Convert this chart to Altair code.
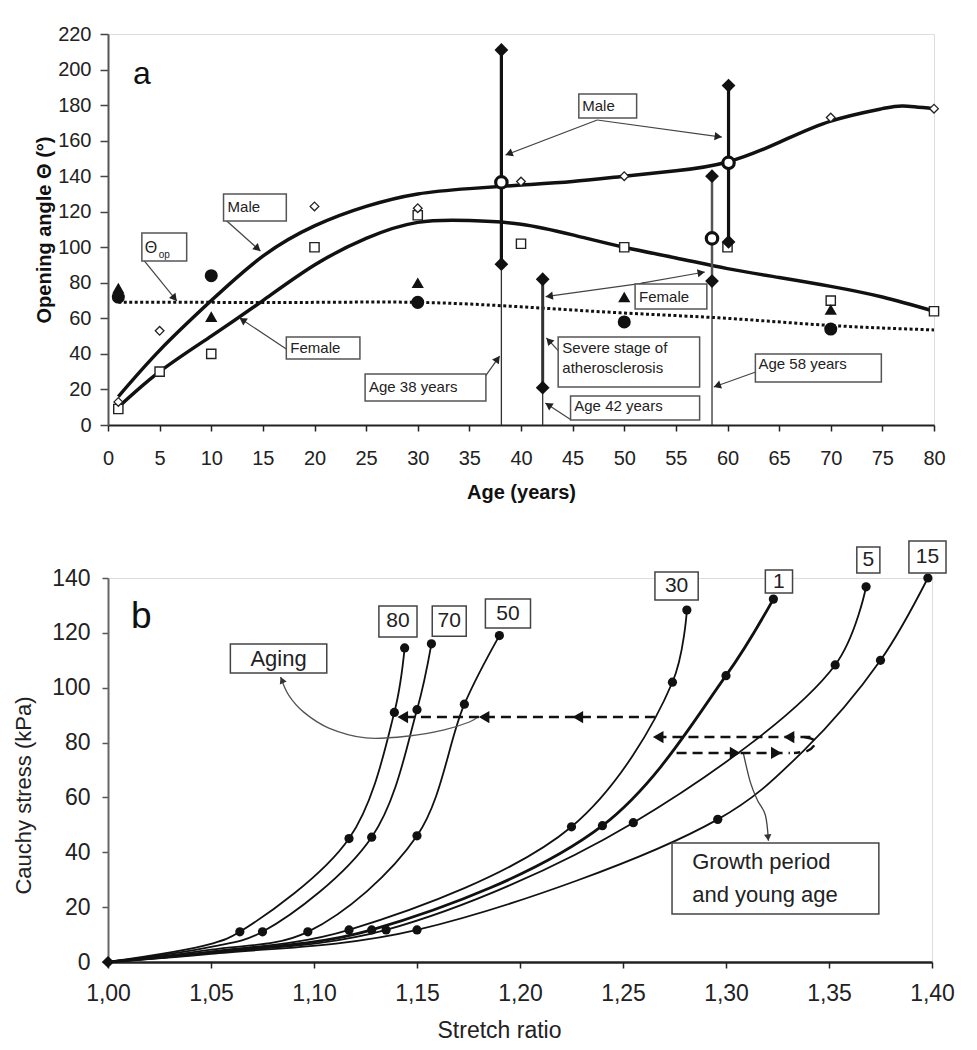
import math
import altair as alt
import pandas as pd

FONT = "Liberation Sans"

# ---------------- panel a : opening angle vs age ----------------
male_fit_age = [1, 5, 10, 15, 20, 25, 30, 35, 40, 45, 50, 55, 60, 65, 70, 75, 77, 80]
male_fit = [16, 42, 70, 95, 112, 123, 130, 133, 135, 137, 140, 143, 148, 159, 171, 178, 179.5, 178]
female_fit_age = [1, 5, 10, 15, 20, 25, 30, 35, 40, 45, 50, 55, 60, 65, 70, 75, 80]
female_fit = [10, 30, 50, 70, 90, 105, 114, 115, 113, 107, 100, 94, 88, 83, 78, 72, 64]
op_age = [1, 10, 20, 30, 40, 50, 60, 70, 80]
op_val = [69, 69, 69, 69, 66.5, 63, 60, 56, 53.5]

male_age = [1, 5, 20, 30, 40, 50, 70, 80]
male_val = [13, 53, 123, 122, 137, 140, 173, 178]
female_age = [1, 5, 10, 20, 30, 40, 50, 60, 70, 80]
female_val = [9, 30, 40, 100, 118, 102, 100, 100, 70, 64]
tri_age = [1, 10, 30, 50, 70]
tri_val = [77, 61, 80, 72, 65]
dot_age = [1, 10, 30, 50, 70]
dot_val = [72, 84, 69, 58, 54]

rng_age = [38.1, 42.1, 58.5, 60.1]
rng_low = [90.5, 21, 81, 103]
rng_high = [211, 82, 140, 191]
rng_mean_age = [38.1, 58.5, 60.1]
rng_mean = [136.5, 105, 147.5]
rng_width = [3.2, 3.0, 2.5, 3.2]
rng_color = ["#111", "#333", "#555", "#111"]
mark_line_age = [38.1, 42.1, 58.5]
mark_line_top = [90.5, 21, 81]

a_box_x1 = [11.19, 3.28, 17.27, 45.6, 51.05, 43.6, 44.8, 24.9, 62.7]
a_box_x2 = [17.27, 7.62, 24.4, 51.2, 58.0, 57.3, 57.3, 36.6, 74.9]
a_box_y1 = [114.8, 92.3, 37.1, 172.7, 65.3, 21.4, 2.8, 13.5, 24.2]
a_box_y2 = [130.0, 108.0, 49.5, 186.2, 79.3, 49.5, 16.3, 28.7, 40.0]

a_text = ["Male", "Θ", "op", "Female", "Male", "Female", "Severe stage of",
          "atherosclerosis", "Age 42 years", "Age 38 years", "Age 58 years"]
a_text_x = [11.58, 3.57, 4.92, 17.66, 45.93, 51.44, 44.0, 44.0, 45.16, 25.28, 63.0]
a_text_y = [122.4, 99.5, 95.5, 43.3, 179.5, 72.0, 43.3, 32.0, 10.7, 21.4, 34.3]
a_text_size = [15, 16, 10, 15, 15, 15, 15, 15, 15, 15, 15]

# arrows: tail (x0, y0) -> head (x1, y1)
a_arrow_x0 = [11.29, 3.38, 17.27, 47.38, 47.38, 52.0, 51.7, 43.72, 44.87, 36.57, 62.73]
a_arrow_y0 = [115.9, 93.4, 42.8, 171.6, 171.6, 80.0, 79.8, 41.1, 2.8, 27.6, 29.8]
a_arrow_x1 = [14.76, 6.66, 12.74, 38.5, 59.45, 42.39, 57.8, 42.46, 42.36, 37.93, 58.67]
a_arrow_y1 = [97.9, 69.8, 60.2, 151.9, 162.0, 72.2, 86.1, 49.0, 12.4, 38.8, 21.4]

# ---------------- panel b : Cauchy stress vs stretch ----------------
curve_names = ["80", "70", "50", "30", "1", "5", "15"]
curve_x = [
    [1.00, 1.05, 1.064, 1.117, 1.139, 1.144],
    [1.00, 1.05, 1.075, 1.128, 1.150, 1.157],
    [1.00, 1.05, 1.097, 1.150, 1.173, 1.190],
    [1.00, 1.05, 1.117, 1.225, 1.274, 1.281],
    [1.00, 1.05, 1.128, 1.240, 1.300, 1.323],
    [1.00, 1.05, 1.135, 1.255, 1.353, 1.368],
    [1.00, 1.05, 1.150, 1.296, 1.3376, 1.375, 1.398],
]
curve_y = [
    [0, 6.6, 11, 45, 91, 114.5],
    [0, 5.5, 11, 45.5, 92, 116],
    [0, 4.5, 11, 46, 94, 119],
    [0, 3.8, 11.7, 49.3, 102, 128.3],
    [0, 3.6, 11.7, 49.7, 104.4, 132.3],
    [0, 3.3, 11.7, 50.8, 108.3, 136.8],
    [0, 3.0, 11.7, 52, 77, 110, 140],
]
curve_width = [1.8, 1.8, 1.8, 1.8, 2.8, 1.8, 1.8]
dots_x = [
    [1.064, 1.117, 1.139, 1.144],
    [1.075, 1.128, 1.150, 1.157],
    [1.097, 1.150, 1.173, 1.190],
    [1.117, 1.225, 1.274, 1.281],
    [1.128, 1.240, 1.300, 1.323],
    [1.135, 1.255, 1.353, 1.368],
    [1.150, 1.296, 1.375, 1.398],
]
dots_y = [
    [11, 45, 91, 114.5],
    [11, 45.5, 92, 116],
    [11, 46, 94, 119],
    [11.7, 49.3, 102, 128.3],
    [11.7, 49.7, 104.4, 132.3],
    [11.7, 50.8, 108.3, 136.8],
    [11.7, 52, 110, 140],
]

nb_text = ["80", "70", "50", "30", "1", "5", "15"]
nb_x1 = [1.1315, 1.1574, 1.1832, 1.2655, 1.3191, 1.3635, 1.3888]
nb_x2 = [1.1500, 1.1739, 1.2051, 1.2865, 1.3323, 1.3747, 1.4068]
nb_y1 = [118.5, 118.8, 121.8, 132.0, 134.5, 141.8, 141.8]
nb_y2 = [129.8, 129.8, 132.3, 142.2, 142.9, 151.3, 153.5]

b_box_x1 = [1.0594, 1.2738]
b_box_x2 = [1.1062, 1.3742]
b_box_y1 = [105.4, 17.5]
b_box_y2 = [115.9, 43.4]
b_text = ["Aging", "Growth period", "and young age"]
b_text_x = [1.0828, 1.2836, 1.2836]
b_text_y = [110.6, 36.5, 24.4]

dash_x = [[1.2655, 1.1425], [1.341, 1.2665], [1.276, 1.331]]
dash_y = [[89.3, 89.3], [82.0, 82.0], [76.2, 76.2]]
dash_curl_x = [1.338, 1.3425, 1.343, 1.3395, 1.333]
dash_curl_y = [82.0, 81.0, 79.2, 77.0, 76.2]
head_left_x = [1.1405, 1.180, 1.2255, 1.2645, 1.328]
head_left_y = [89.3, 89.3, 89.3, 82.0, 82.0]
head_right_x = [1.307, 1.327]
head_right_y = [76.2, 76.2]

aging_x = [1.0838, 1.0877, 1.0950, 1.1072, 1.1252, 1.1462, 1.1632, 1.1754, 1.1793]
aging_y = [103.9, 97.3, 91.1, 85.3, 81.7, 82.4, 84.6, 87.5, 89.3]
growth_x = [1.3084, 1.3118, 1.3152, 1.3191, 1.3206]
growth_y = [76.2, 65.6, 59.1, 53.6, 44.2]

# ---------------- layout ----------------
W1, H1 = 826, 391
W2, H2 = 824, 384
SX1, SY1 = W1 / 80, H1 / 220
SX2, SY2 = W2 / 0.4, H2 / 140


def heads(x0s, y0s, x1s, y1s, sx, sy, size):
    half = 0.433 * math.sqrt(size)
    rows = []
    for x0, y0, x1, y1 in zip(x0s, y0s, x1s, y1s):
        dx = (x1 - x0) * sx
        dy = -(y1 - y0) * sy
        L = math.hypot(dx, dy)
        ang = math.degrees(math.atan2(dx, -dy)) % 360
        rows.append({"x": x1 - dx / L * half / sx, "y": y1 + dy / L * half / sy, "a": ang})
    return pd.DataFrame(rows)


XS1 = alt.Scale(domain=[0, 80], nice=False)
YS1 = alt.Scale(domain=[0, 220], nice=False)
AX1 = alt.Axis(values=list(range(0, 81, 5)), grid=False, tickSize=6, tickWidth=1.5,
               tickColor="#222", domainColor="#222", domainWidth=2, labelFontSize=20,
               labelColor="#222", labelPadding=17, labelFlush=False, titleFontSize=20,
               titleFontWeight="bold", titleColor="#111", titlePadding=14,
               labelFont=FONT, titleFont=FONT)
AY1 = alt.Axis(values=list(range(0, 221, 20)), grid=False, tickSize=8, tickWidth=1.5,
               tickColor="#444", domainColor="#555", domainWidth=2, labelFontSize=20,
               labelColor="#222", labelPadding=9, labelFlush=False, titleFontSize=20,
               titleFontWeight="bold", titleColor="#111", titlePadding=3,
               labelFont=FONT, titleFont=FONT)


def xa(f):
    return alt.X(f, type="quantitative", scale=XS1, axis=AX1, title="Age (years)")


def ya(f):
    return alt.Y(f, type="quantitative", scale=YS1, axis=AY1, title="Opening angle Θ (°)")


male_df = pd.DataFrame({"x": male_fit_age, "y": male_fit})
female_df = pd.DataFrame({"x": female_fit_age, "y": female_fit})
op_df = pd.DataFrame({"x": op_age, "y": op_val})

l_male = alt.Chart(male_df).mark_line(color="#111", strokeWidth=3.5, interpolate="natural").encode(x=xa("x"), y=ya("y"))
l_female = alt.Chart(female_df).mark_line(color="#111", strokeWidth=3.5, interpolate="natural").encode(x=xa("x"), y=ya("y"))
l_op = alt.Chart(op_df).mark_line(color="#111", strokeWidth=3, strokeDash=[3, 2.5], interpolate="natural").encode(x=xa("x"), y=ya("y"))

thin_df = pd.DataFrame({"x": mark_line_age, "y": [0] * 3, "y2": mark_line_top})
r_thin = alt.Chart(thin_df).mark_rule(color="#333", strokeWidth=1.3).encode(x=xa("x"), y=ya("y"), y2="y2")
rng_df = pd.DataFrame({"x": rng_age, "y": rng_low, "y2": rng_high, "w": rng_width, "c": rng_color})
r_rng = alt.Chart(rng_df).mark_rule().encode(
    x=xa("x"), y=ya("y"), y2="y2",
    strokeWidth=alt.StrokeWidth("w:Q", scale=None), color=alt.Color("c:N", scale=None))
ends_df = pd.DataFrame({"x": rng_age + rng_age, "y": rng_low + rng_high})
p_ends = alt.Chart(ends_df).mark_point(shape="diamond", filled=True, color="#111", size=190, opacity=1).encode(x=xa("x"), y=ya("y"))
mean_df = pd.DataFrame({"x": rng_mean_age, "y": rng_mean})
p_mean = alt.Chart(mean_df).mark_point(shape="circle", filled=True, fill="white", stroke="#111", strokeWidth=3.2, size=130, opacity=1).encode(x=xa("x"), y=ya("y"))

p_male = alt.Chart(pd.DataFrame({"x": male_age, "y": male_val})).mark_point(
    shape="diamond", filled=True, fill="white", stroke="#222", strokeWidth=1.3, size=75, opacity=1).encode(x=xa("x"), y=ya("y"))
p_female = alt.Chart(pd.DataFrame({"x": female_age, "y": female_val})).mark_point(
    shape="square", filled=True, fill="white", stroke="#222", strokeWidth=1.4, size=85, opacity=1).encode(x=xa("x"), y=ya("y"))
p_tri = alt.Chart(pd.DataFrame({"x": tri_age, "y": tri_val})).mark_point(
    shape="triangle-up", filled=True, color="#111", size=150, opacity=1).encode(x=xa("x"), y=ya("y"))
p_dot = alt.Chart(pd.DataFrame({"x": dot_age, "y": dot_val})).mark_point(
    shape="circle", filled=True, color="#111", size=170, opacity=1).encode(x=xa("x"), y=ya("y"))

abox_df = pd.DataFrame({"x": a_box_x1, "x2": a_box_x2, "y": a_box_y1, "y2": a_box_y2})
a_boxes = alt.Chart(abox_df).mark_rect(fill="white", stroke="#555", strokeWidth=1.5).encode(
    x=xa("x"), x2="x2", y=ya("y"), y2="y2")
atext_df = pd.DataFrame({"x": a_text_x, "y": a_text_y, "t": a_text, "s": a_text_size})
a_texts = alt.Chart(atext_df).mark_text(align="left", baseline="middle", font=FONT, color="#222").encode(
    x=xa("x"), y=ya("y"), text="t:N", size=alt.Size("s:Q", scale=None))

aarrow_df = pd.DataFrame({"x": a_arrow_x0, "y": a_arrow_y0, "x2": a_arrow_x1, "y2": a_arrow_y1})
a_arrows = alt.Chart(aarrow_df).mark_rule(color="#444", strokeWidth=1.2).encode(
    x=xa("x"), y=ya("y"), x2="x2", y2="y2")
a_heads = alt.Chart(heads(a_arrow_x0, a_arrow_y0, a_arrow_x1, a_arrow_y1, SX1, SY1, 70)).mark_point(
    shape="triangle-up", filled=True, color="#222", size=70, opacity=1).encode(
    x=xa("x"), y=ya("y"), angle=alt.Angle("a:Q", scale=None))

a_letter = alt.Chart(pd.DataFrame({"x": [3.28], "y": [197.3], "t": ["a"]})).mark_text(
    fontSize=32, font=FONT, color="#111", baseline="middle", align="center").encode(x=xa("x"), y=ya("y"), text="t:N")

panel_a = alt.layer(
    l_op, l_female, l_male, r_thin, r_rng, p_female, p_male, p_tri, p_dot, p_ends, p_mean,
    a_arrows, a_heads, a_boxes, a_texts, a_letter
).properties(width=W1, height=H1)

# ---- panel b ----
XS2 = alt.Scale(domain=[1.0, 1.4], nice=False, zero=False)
YS2 = alt.Scale(domain=[0, 140], nice=False)
AX2 = alt.Axis(values=[round(1 + 0.05 * i, 2) for i in range(9)], grid=False, tickSize=6,
               tickWidth=1.5, tickColor="#222", domainColor="#222", domainWidth=2.5,
               labelFontSize=23, labelColor="#222", labelPadding=14, labelFlush=False,
               labelExpr="replace(format(datum.value, '.2f'), '.', ',')",
               titleFontSize=23, titleFontWeight="normal", titleColor="#222", titlePadding=14,
               titleX=391, labelFont=FONT, titleFont=FONT)
AY2 = alt.Axis(values=list(range(0, 141, 20)), grid=False, tickSize=6, tickWidth=1.5,
               tickColor="#555", domainColor="#666", domainWidth=2, labelFontSize=23,
               labelColor="#222", labelPadding=12, labelFlush=False, titleFontSize=22,
               titleFontWeight="normal", titleColor="#222", titlePadding=16, titleY=217,
               labelFont=FONT, titleFont=FONT)


def xb(f):
    return alt.X(f, type="quantitative", scale=XS2, axis=AX2, title="Stretch ratio")


def yb(f):
    return alt.Y(f, type="quantitative", scale=YS2, axis=AY2, title="Cauchy stress (kPa)")


rows = []
for name, xs, ys, w in zip(curve_names, curve_x, curve_y, curve_width):
    for i, (xv, yv) in enumerate(zip(xs, ys)):
        rows.append({"s": name, "o": i, "x": xv, "y": yv, "w": w})
curves_df = pd.DataFrame(rows)
dots = []
for xs, ys in zip(dots_x, dots_y):
    for xv, yv in zip(xs, ys):
        dots.append({"x": xv, "y": yv})
b_curves = alt.Chart(curves_df).mark_line(color="#111", interpolate="catmull-rom").encode(
    x=xb("x"), y=yb("y"), detail="s:N", order="o:Q",
    strokeWidth=alt.StrokeWidth("w:Q", scale=None))
b_dots = alt.Chart(pd.DataFrame(dots)).mark_point(shape="circle", filled=True, color="#111", size=85, opacity=1).encode(
    x=xb("x"), y=yb("y"))
b_origin = alt.Chart(pd.DataFrame({"x": [1.0], "y": [0]})).mark_point(
    shape="diamond", filled=True, color="#111", size=150, opacity=1).encode(x=xb("x"), y=yb("y"))

drows = []
for k, (xs, ys) in enumerate(zip(dash_x, dash_y)):
    for i, (xv, yv) in enumerate(zip(xs, ys)):
        drows.append({"s": k, "o": i, "x": xv, "y": yv})
for i, (xv, yv) in enumerate(zip(dash_curl_x, dash_curl_y)):
    drows.append({"s": 9, "o": i, "x": xv, "y": yv})
b_dash = alt.Chart(pd.DataFrame(drows)).mark_line(color="#111", strokeWidth=2.5, strokeDash=[10, 6], interpolate="cardinal").encode(
    x=xb("x"), y=yb("y"), detail="s:N", order="o:Q")

HS = 150
half2 = 0.433 * math.sqrt(HS) / SX2
hl_df = pd.DataFrame({"x": [v + half2 for v in head_left_x], "y": head_left_y, "a": [270] * len(head_left_x)})
hr_df = pd.DataFrame({"x": [v - half2 for v in head_right_x], "y": head_right_y, "a": [90] * len(head_right_x)})
b_heads = alt.Chart(pd.concat([hl_df, hr_df])).mark_point(shape="triangle-up", filled=True, color="#111", size=HS, opacity=1).encode(
    x=xb("x"), y=yb("y"), angle=alt.Angle("a:Q", scale=None))

ag_df = pd.DataFrame({"x": aging_x, "y": aging_y, "o": list(range(len(aging_x)))})
b_aging = alt.Chart(ag_df).mark_line(color="#555", strokeWidth=1.3, interpolate="cardinal").encode(
    x=xb("x"), y=yb("y"), order="o:Q")
gr_df = pd.DataFrame({"x": growth_x, "y": growth_y, "o": list(range(len(growth_x)))})
b_growth = alt.Chart(gr_df).mark_line(color="#444", strokeWidth=1.3, interpolate="cardinal").encode(
    x=xb("x"), y=yb("y"), order="o:Q")
cur_heads = heads([aging_x[1], growth_x[-2]], [aging_y[1], growth_y[-2]],
                  [aging_x[0], growth_x[-1]], [aging_y[0], growth_y[-1]], SX2, SY2, 55)
b_cheads = alt.Chart(cur_heads).mark_point(shape="triangle-up", filled=True, color="#333", size=55, opacity=1).encode(
    x=xb("x"), y=yb("y"), angle=alt.Angle("a:Q", scale=None))

nb_df = pd.DataFrame({"x": nb_x1, "x2": nb_x2, "y": nb_y1, "y2": nb_y2, "t": nb_text,
                      "cx": [(a + b) / 2 for a, b in zip(nb_x1, nb_x2)],
                      "cy": [(a + b) / 2 for a, b in zip(nb_y1, nb_y2)]})
b_nbox = alt.Chart(nb_df).mark_rect(fill="white", stroke="#444", strokeWidth=1.5).encode(
    x=xb("x"), x2="x2", y=yb("y"), y2="y2")
b_ntext = alt.Chart(nb_df).mark_text(fontSize=21, font=FONT, color="#222", baseline="middle", align="center").encode(
    x=xb("cx"), y=yb("cy"), text="t:N")

bbox_df = pd.DataFrame({"x": b_box_x1, "x2": b_box_x2, "y": b_box_y1, "y2": b_box_y2})
b_boxes = alt.Chart(bbox_df).mark_rect(fill="white", stroke="#444", strokeWidth=1.5).encode(
    x=xb("x"), x2="x2", y=yb("y"), y2="y2")
bt_df = pd.DataFrame({"x": b_text_x, "y": b_text_y, "t": b_text})
b_t1 = alt.Chart(bt_df.iloc[:1]).mark_text(fontSize=22, font=FONT, color="#222", baseline="middle", align="center").encode(
    x=xb("x"), y=yb("y"), text="t:N")
b_t2 = alt.Chart(bt_df.iloc[1:]).mark_text(fontSize=22, font=FONT, color="#222", baseline="middle", align="left").encode(
    x=xb("x"), y=yb("y"), text="t:N")
b_letter = alt.Chart(pd.DataFrame({"x": [1.0161], "y": [125.8], "t": ["b"]})).mark_text(
    fontSize=37, font=FONT, color="#111", baseline="middle", align="center").encode(x=xb("x"), y=yb("y"), text="t:N")

panel_b = alt.layer(
    b_curves, b_dots, b_origin, b_aging, b_growth, b_dash, b_heads, b_cheads,
    b_nbox, b_ntext, b_boxes, b_t1, b_t2, b_letter
).properties(width=W2, height=H2)

chart = alt.vconcat(panel_a, panel_b, spacing=36).properties(
    padding={"left": 4, "top": 15, "right": 5, "bottom": 5}
).configure_view(stroke="#888", strokeWidth=2).configure(font=FONT, background="white")

chart.save("out.html", embed_options={"renderer": "svg", "actions": False})
